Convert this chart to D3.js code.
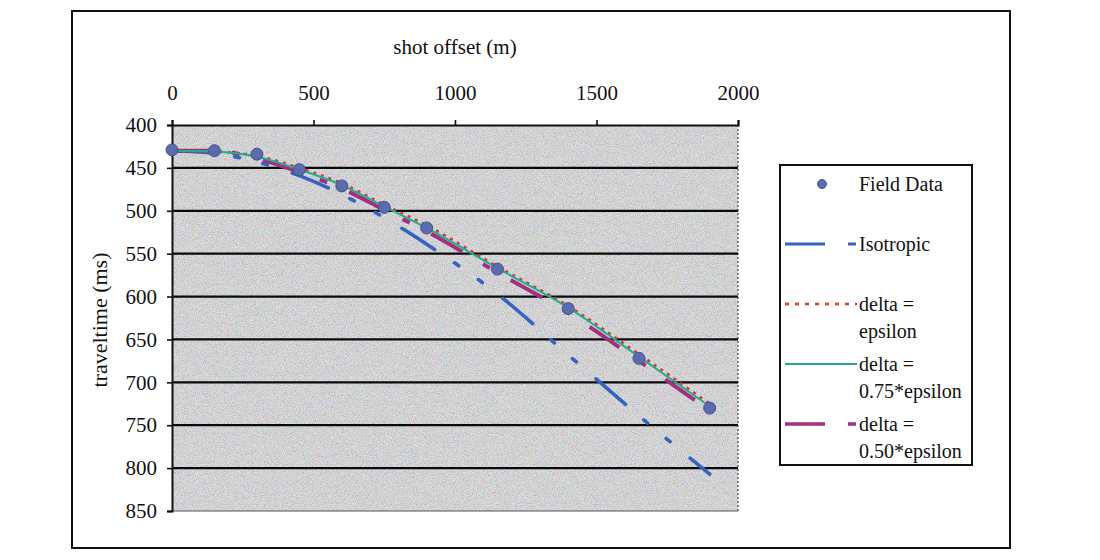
<!DOCTYPE html>
<html>
<head>
<meta charset="utf-8">
<script src="https://cdn.jsdelivr.net/npm/d3@7"></script>
<style>
  html, body { margin: 0; padding: 0; background: #fff; }
  svg text { font-family: "Liberation Serif", "DejaVu Serif", serif; fill: #111; }
</style>
</head>
<body>
<div id="chart"></div>
<script>
// values
const offsets = [0, 150, 300, 450, 600, 750, 900, 1150, 1400, 1650, 1900];
const fieldData = [429, 430, 434, 452, 471, 496, 520, 568, 614, 672, 730];
const isotropic = [430, 433, 443, 459, 481, 508, 539, 597, 668, 739, 807];
const deltaEqEpsilon = [430, 431, 436, 450, 468, 493, 517, 565, 611, 667, 725];
const delta075 = [430, 431, 437, 452, 470, 495, 520, 567, 613, 670, 728];
const delta050 = [430, 430, 439, 455, 474, 499, 524, 572, 619, 675, 733];

const xTicks = [0, 500, 1000, 1500, 2000];
const yTicks = [400, 450, 500, 550, 600, 650, 700, 750, 800, 850];

const seriesDefs = [
  { name: "Isotropic", values: isotropic, color: "#3563c4", width: 3.6, dash: "39,24,5,24,5,26", cap: "round" },
  { name: "delta = 0.50*epsilon", values: delta050, color: "#a2307f", width: 4, dash: "36,24,8,24", cap: "butt" },
  { name: "delta = epsilon", values: deltaEqEpsilon, color: "#e2342a", width: 2.6, dash: "3,5", cap: "butt" },
  { name: "delta = 0.75*epsilon", values: delta075, color: "#1fae8e", width: 2, dash: null, cap: "butt" }
];

const width = 1100;
const height = 560;

const svg = d3.select("#chart")
  .append("svg")
  .attr("width", width)
  .attr("height", height);

const defs = svg.append("defs");
const grain = defs.append("filter")
  .attr("id", "grain")
  .attr("x", 0).attr("y", 0).attr("width", "100%").attr("height", "100%");
grain.append("feTurbulence")
  .attr("type", "fractalNoise")
  .attr("baseFrequency", 1.1)
  .attr("numOctaves", 2)
  .attr("seed", 4);
grain.append("feColorMatrix")
  .attr("type", "matrix")
  .attr("values", "1.5 0 0 0 0.0  0 1.4 0 0 0.05  0 0 1.5 0 0.02  0 0 0 0 0.6");

// outer frame
svg.append("rect")
  .attr("x", 72).attr("y", 11)
  .attr("width", 938).attr("height", 537)
  .attr("fill", "none")
  .attr("stroke", "#111")
  .attr("stroke-width", 2);

const xScale = d3.scaleLinear().domain([0, 2000]).range([172, 738]);
const yScale = d3.scaleLinear().domain([400, 850]).range([125, 511]);

// plot area
const [px0, px1] = xScale.range();
const [py0, py1] = yScale.range();
svg.append("rect")
  .attr("x", px0).attr("y", py0)
  .attr("width", px1 - px0).attr("height", py1 - py0)
  .attr("fill", "#bdbdbd");
svg.append("rect")
  .attr("x", px0).attr("y", py0)
  .attr("width", px1 - px0).attr("height", py1 - py0)
  .attr("filter", "url(#grain)");
svg.append("line")
  .attr("x1", px1).attr("x2", px1).attr("y1", py0).attr("y2", py1)
  .attr("stroke", "#666").attr("stroke-width", 1.5).attr("stroke-dasharray", "2,2");
svg.append("line")
  .attr("x1", px0).attr("x2", px1).attr("y1", py1).attr("y2", py1)
  .attr("stroke", "#555").attr("stroke-width", 1.2);

// gridlines
svg.append("g")
  .selectAll("line")
  .data(yTicks.filter((t) => t > 400 && t < 850))
  .join("line")
  .attr("x1", px0).attr("x2", px1)
  .attr("y1", (d) => yScale(d)).attr("y2", (d) => yScale(d))
  .attr("stroke", "#0a0a0a")
  .attr("stroke-width", 2.2);

// axes
const xAxis = svg.append("g")
  .attr("transform", `translate(0,${py0})`)
  .call(d3.axisTop(xScale).tickValues(xTicks).tickSize(5).tickPadding(20).tickFormat(d3.format("d")));
const yAxis = svg.append("g")
  .attr("transform", `translate(${px0},0)`)
  .call(d3.axisLeft(yScale).tickValues(yTicks).tickSize(5).tickPadding(10).tickFormat(d3.format("d")));

[xAxis, yAxis].forEach((axis) => {
  axis.select(".domain").attr("stroke", "#111").attr("stroke-width", 2);
  axis.selectAll(".tick line").attr("stroke", "#111").attr("stroke-width", 1.6);
  axis.selectAll(".tick text")
    .attr("font-family", "Liberation Serif, serif")
    .attr("font-size", 21)
    .attr("fill", "#111");
});

svg.append("text")
  .attr("x", 455).attr("y", 54)
  .attr("text-anchor", "middle")
  .attr("font-size", 21)
  .text("shot offset (m)");

svg.append("text")
  .attr("transform", "translate(107,320) rotate(-90)")
  .attr("text-anchor", "middle")
  .attr("font-size", 22)
  .text("traveltime (ms)");

// curves
const line = d3.line()
  .x((d) => xScale(d[0]))
  .y((d) => yScale(d[1]))
  .curve(d3.curveMonotoneX);

svg.append("g")
  .selectAll("path")
  .data(seriesDefs)
  .join("path")
  .attr("d", (s) => line(offsets.map((o, i) => [o, s.values[i]])))
  .attr("fill", "none")
  .attr("stroke", (s) => s.color)
  .attr("stroke-width", (s) => s.width)
  .attr("stroke-linecap", (s) => s.cap)
  .attr("stroke-dasharray", (s) => s.dash);

svg.append("g")
  .selectAll("circle")
  .data(offsets.map((o, i) => [o, fieldData[i]]))
  .join("circle")
  .attr("cx", (d) => xScale(d[0]))
  .attr("cy", (d) => yScale(d[1]))
  .attr("r", 6)
  .attr("fill", "#5a6cae")
  .attr("stroke", "#44528c")
  .attr("stroke-width", 1);

// legend
const legend = svg.append("g");
legend.append("rect")
  .attr("x", 780).attr("y", 165)
  .attr("width", 192).attr("height", 300)
  .attr("fill", "#fff")
  .attr("stroke", "#111")
  .attr("stroke-width", 2);

legend.append("circle")
  .attr("cx", 822).attr("cy", 184).attr("r", 4.5)
  .attr("fill", "#5a6cae").attr("stroke", "#44528c");

const legendRows = [
  { y: 244, color: "#3563c4", width: 3.2, dash: "40,23,8", lines: ["Isotropic"] },
  { y: 304, color: "#e2342a", width: 2.4, dash: "4,6", lines: ["delta =", "epsilon"] },
  { y: 364, color: "#1fae8e", width: 2.2, dash: null, lines: ["delta =", "0.75*epsilon"] },
  { y: 424, color: "#a2307f", width: 3.4, dash: "40,23,8", lines: ["delta =", "0.50*epsilon"] }
];

legendRows.forEach((row) => {
  legend.append("line")
    .attr("x1", 785).attr("x2", 857)
    .attr("y1", row.y).attr("y2", row.y)
    .attr("stroke", row.color)
    .attr("stroke-width", row.width)
    .attr("stroke-dasharray", row.dash);
  row.lines.forEach((txt, i) => {
    legend.append("text")
      .attr("x", 859)
      .attr("y", row.y + 7 + i * 27)
      .attr("font-size", 20)
      .text(txt);
  });
});

legend.append("text")
  .attr("x", 859).attr("y", 191)
  .attr("font-size", 20)
  .text("Field Data");
</script>
</body>
</html>
